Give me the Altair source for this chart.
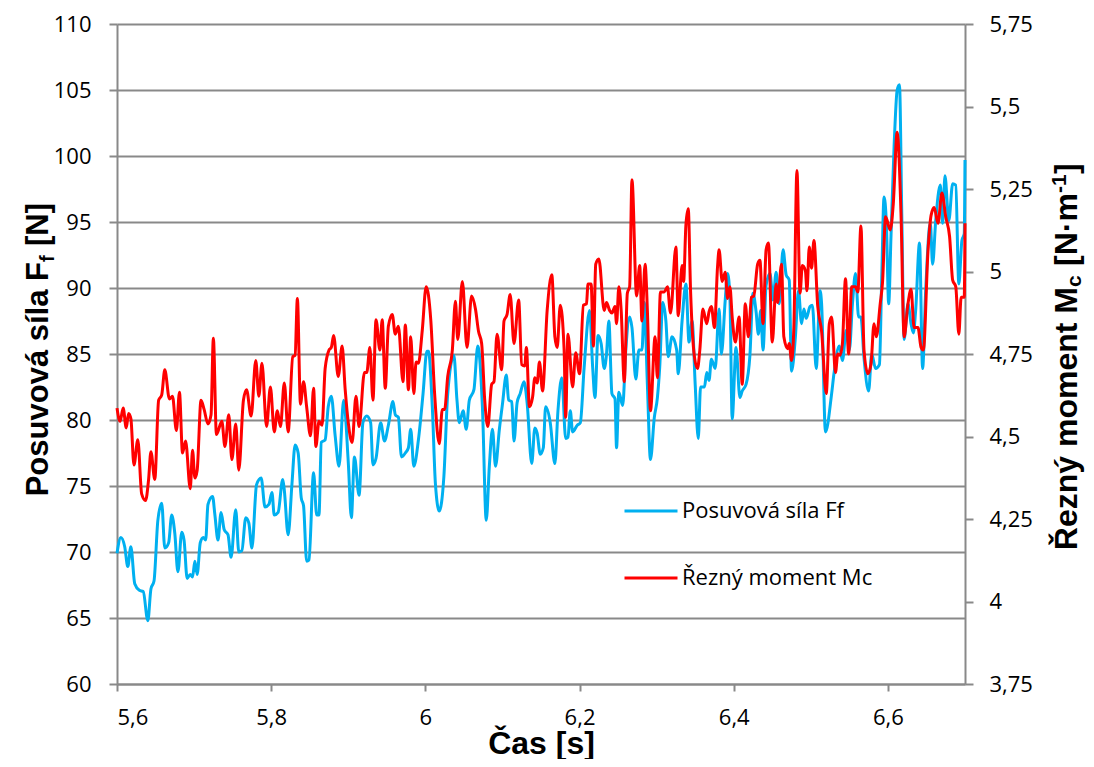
import altair as alt
import pandas as pd

# ---- data ----
ff_time = [5.600, 5.605, 5.610, 5.614, 5.618, 5.623, 5.629, 5.634, 5.640, 5.644, 5.648, 5.653, 5.658, 5.662,
           5.667, 5.671, 5.675, 5.679, 5.684, 5.687, 5.691, 5.695, 5.698, 5.701, 5.704, 5.708, 5.712, 5.715,
           5.718, 5.724, 5.727, 5.731, 5.735, 5.739, 5.744, 5.748, 5.754, 5.758, 5.762, 5.767, 5.771, 5.775,
           5.781, 5.787, 5.792, 5.797, 5.801, 5.804, 5.809, 5.815, 5.817, 5.822, 5.827, 5.831, 5.835, 5.839,
           5.842, 5.846, 5.849, 5.855, 5.859, 5.862, 5.865, 5.870, 5.874, 5.878, 5.883, 5.888, 5.894, 5.900,
           5.904, 5.908, 5.914, 5.919, 5.924, 5.929, 5.932, 5.936, 5.942, 5.947, 5.952, 5.958, 5.961, 5.965,
           5.969, 5.974, 5.978, 5.981, 5.985, 5.991, 5.997, 6.002, 6.004, 6.009, 6.013, 6.018, 6.024, 6.029,
           6.037, 6.041, 6.044, 6.049, 6.053, 6.057, 6.063, 6.068, 6.074, 6.079, 6.083, 6.087, 6.091, 6.096,
           6.100, 6.105, 6.108, 6.112, 6.115, 6.119, 6.123, 6.128, 6.132, 6.138, 6.142, 6.145, 6.149, 6.153,
           6.156, 6.162, 6.168, 6.172, 6.177, 6.182, 6.185, 6.188, 6.191, 6.197, 6.201, 6.206, 6.213, 6.217,
           6.220, 6.224, 6.228, 6.232, 6.235, 6.238, 6.242, 6.246, 6.248, 6.251, 6.256, 6.260, 6.265, 6.268,
           6.273, 6.277, 6.281, 6.284, 6.288, 6.292, 6.297, 6.301, 6.304, 6.308, 6.312, 6.315, 6.320, 6.326,
           6.328, 6.333, 6.338, 6.342, 6.346, 6.350, 6.354, 6.357, 6.362, 6.365, 6.368, 6.371, 6.376, 6.381,
           6.384, 6.389, 6.392, 6.395, 6.398, 6.403, 6.408, 6.411, 6.416, 6.421, 6.425, 6.429, 6.432, 6.435,
           6.438, 6.442, 6.447, 6.451, 6.455, 6.459, 6.464, 6.468, 6.472, 6.475, 6.480, 6.484, 6.488, 6.491,
           6.494, 6.499, 6.502, 6.507, 6.512, 6.514, 6.519, 6.527, 6.530, 6.537, 6.541, 6.546, 6.550, 6.554,
           6.558, 6.562, 6.565, 6.569, 6.575, 6.579, 6.584, 6.589, 6.592, 6.595, 6.598, 6.601, 6.604, 6.608,
           6.612, 6.615, 6.618, 6.621, 6.626, 6.630, 6.633, 6.636, 6.641, 6.645, 6.649, 6.655, 6.658, 6.662,
           6.668, 6.671, 6.674, 6.679, 6.684, 6.688, 6.692, 6.696, 6.699, 6.700]
ff_value = [69.9, 71.1, 70.4, 68.9, 70.4, 67.6, 67.1, 67.0, 64.8, 67.2, 67.8, 72.4, 73.7, 70.3,
            70.7, 72.8, 71.4, 68.5, 71.5, 70.9, 68.0, 68.3, 68.1, 69.3, 68.3, 70.7, 71.1, 70.9,
            73.6, 74.2, 72.8, 70.9, 73.0, 71.7, 71.3, 69.6, 73.2, 70.0, 70.1, 72.6, 72.2, 70.3,
            75.1, 75.6, 73.4, 73.6, 74.5, 72.8, 73.0, 75.5, 74.7, 71.3, 75.2, 78.1, 77.5, 74.1,
            73.5, 69.3, 69.4, 76.0, 72.8, 72.8, 78.3, 78.5, 81.0, 81.8, 78.8, 76.5, 81.5, 76.8,
            72.6, 77.2, 74.3, 79.8, 80.3, 79.8, 76.6, 77.1, 79.8, 78.4, 79.6, 81.4, 80.4, 80.2,
            77.2, 77.5, 77.9, 79.3, 76.5, 78.5, 82.0, 85.2, 85.2, 81.0, 75.2, 73.1, 75.7, 82.0,
            84.9, 81.5, 79.8, 80.7, 79.3, 81.5, 82.3, 85.6, 81.0, 72.4, 76.5, 79.3, 76.5, 79.3,
            81.2, 83.4, 81.5, 81.4, 78.4, 81.3, 82.0, 82.9, 81.3, 76.7, 79.4, 79.0, 77.4, 77.9,
            81.0, 79.8, 76.7, 80.7, 83.2, 78.6, 78.7, 80.7, 79.1, 79.6, 79.8, 84.0, 88.3, 84.0,
            81.7, 86.4, 85.8, 83.9, 85.0, 87.5, 82.0, 81.6, 77.9, 82.1, 81.1, 85.3, 87.8, 87.0,
            83.1, 85.3, 85.3, 88.9, 82.7, 77.0, 80.2, 81.7, 84.0, 88.9, 87.5, 84.8, 86.3, 85.3,
            83.5, 87.5, 90.3, 85.9, 87.5, 82.7, 78.6, 82.5, 82.5, 83.6, 83.0, 84.6, 83.9, 88.4,
            85.0, 89.1, 91.1, 89.4, 80.1, 85.5, 81.7, 82.2, 82.7, 84.9, 89.6, 88.2, 86.5, 88.3,
            85.3, 90.2, 91.1, 89.1, 91.2, 88.8, 92.9, 91.0, 90.6, 83.7, 86.3, 89.8, 87.3, 88.4,
            87.7, 88.6, 88.7, 83.9, 89.8, 88.8, 79.1, 82.0, 83.5, 85.6, 84.5, 86.8, 85.3, 88.8,
            91.1, 87.8, 87.8, 84.7, 82.2, 85.0, 83.9, 84.2, 90.8, 96.9, 94.9, 88.8, 93.9, 100.7,
            105.0, 105.4, 95.6, 86.1, 88.8, 87.3, 86.6, 88.3, 93.4, 83.9, 89.8, 94.9, 91.8, 95.1,
            97.8, 94.9, 98.5, 95.1, 97.9, 97.8, 90.3, 93.6, 94.1, 99.7]

mc_time = [5.600, 5.604, 5.608, 5.612, 5.615, 5.618, 5.622, 5.627, 5.632, 5.637, 5.641, 5.644, 5.649, 5.654,
           5.658, 5.662, 5.668, 5.672, 5.677, 5.681, 5.685, 5.689, 5.695, 5.698, 5.701, 5.704, 5.709, 5.713,
           5.718, 5.722, 5.725, 5.729, 5.736, 5.740, 5.745, 5.749, 5.754, 5.758, 5.764, 5.768, 5.774, 5.780,
           5.784, 5.788, 5.794, 5.799, 5.804, 5.808, 5.812, 5.817, 5.822, 5.828, 5.831, 5.834, 5.838, 5.842,
           5.846, 5.851, 5.855, 5.858, 5.862, 5.866, 5.870, 5.875, 5.878, 5.881, 5.887, 5.892, 5.896, 5.900,
           5.905, 5.910, 5.914, 5.921, 5.924, 5.928, 5.932, 5.936, 5.941, 5.944, 5.948, 5.952, 5.957, 5.961,
           5.965, 5.971, 5.974, 5.978, 5.981, 5.985, 5.988, 5.991, 5.996, 6.001, 6.007, 6.012, 6.018, 6.022,
           6.025, 6.029, 6.035, 6.039, 6.042, 6.048, 6.054, 6.060, 6.065, 6.069, 6.073, 6.077, 6.081, 6.086,
           6.089, 6.093, 6.099, 6.102, 6.106, 6.110, 6.115, 6.121, 6.125, 6.129, 6.131, 6.135, 6.139, 6.142,
           6.145, 6.148, 6.152, 6.158, 6.164, 6.168, 6.171, 6.175, 6.180, 6.182, 6.185, 6.191, 6.195, 6.200,
           6.205, 6.209, 6.211, 6.215, 6.218, 6.221, 6.225, 6.232, 6.235, 6.239, 6.242, 6.246, 6.248, 6.251,
           6.254, 6.258, 6.262, 6.265, 6.268, 6.274, 6.278, 6.281, 6.285, 6.288, 6.292, 6.298, 6.301, 6.305,
           6.310, 6.314, 6.318, 6.325, 6.328, 6.333, 6.335, 6.338, 6.341, 6.344, 6.349, 6.353, 6.356, 6.360,
           6.365, 6.368, 6.371, 6.375, 6.379, 6.381, 6.385, 6.389, 6.392, 6.395, 6.398, 6.402, 6.407, 6.411,
           6.415, 6.419, 6.423, 6.426, 6.431, 6.434, 6.438, 6.442, 6.445, 6.450, 6.455, 6.457, 6.462, 6.465,
           6.470, 6.472, 6.475, 6.478, 6.482, 6.486, 6.489, 6.493, 6.495, 6.498, 6.501, 6.504, 6.509, 6.514,
           6.520, 6.524, 6.527, 6.532, 6.535, 6.538, 6.541, 6.545, 6.549, 6.553, 6.558, 6.561, 6.565, 6.569,
           6.574, 6.578, 6.582, 6.585, 6.590, 6.593, 6.597, 6.603, 6.607, 6.612, 6.617, 6.621, 6.626, 6.630,
           6.634, 6.639, 6.643, 6.646, 6.652, 6.656, 6.660, 6.665, 6.670, 6.675, 6.680, 6.684, 6.688, 6.692,
           6.695, 6.699, 6.700]
mc_value = [4.586, 4.546, 4.586, 4.526, 4.570, 4.554, 4.414, 4.490, 4.326, 4.306, 4.370, 4.454, 4.370, 4.610,
            4.626, 4.702, 4.614, 4.622, 4.518, 4.634, 4.450, 4.486, 4.342, 4.458, 4.374, 4.398, 4.610, 4.582,
            4.538, 4.566, 4.798, 4.506, 4.546, 4.470, 4.566, 4.430, 4.538, 4.398, 4.610, 4.642, 4.562, 4.730,
            4.622, 4.722, 4.530, 4.650, 4.514, 4.578, 4.530, 4.662, 4.514, 4.742, 4.746, 4.918, 4.598, 4.666,
            4.590, 4.502, 4.646, 4.470, 4.546, 4.534, 4.706, 4.762, 4.770, 4.806, 4.682, 4.774, 4.642, 4.542,
            4.482, 4.622, 4.530, 4.694, 4.694, 4.770, 4.610, 4.854, 4.762, 4.854, 4.646, 4.834, 4.870, 4.810,
            4.834, 4.666, 4.838, 4.642, 4.802, 4.630, 4.726, 4.722, 4.822, 4.954, 4.854, 4.630, 4.478, 4.582,
            4.582, 4.682, 4.762, 4.910, 4.794, 4.970, 4.770, 4.926, 4.886, 4.818, 4.782, 4.610, 4.530, 4.658,
            4.666, 4.810, 4.702, 4.850, 4.870, 4.930, 4.782, 4.914, 4.718, 4.714, 4.770, 4.590, 4.618, 4.678,
            4.662, 4.726, 4.638, 4.882, 4.990, 4.802, 4.770, 4.898, 4.762, 4.558, 4.810, 4.650, 4.754, 4.690,
            4.898, 4.902, 4.962, 4.962, 4.774, 5.022, 5.038, 4.882, 4.906, 4.882, 4.874, 4.894, 4.842, 4.954,
            4.882, 4.666, 4.934, 4.954, 5.278, 4.926, 5.018, 4.850, 5.022, 4.882, 4.578, 4.802, 4.678, 4.938,
            4.938, 4.954, 4.874, 5.074, 4.866, 5.018, 4.970, 5.142, 5.190, 4.942, 4.742, 4.706, 4.762, 4.886,
            4.842, 4.878, 4.894, 4.830, 5.014, 5.066, 4.970, 4.998, 4.918, 4.954, 4.862, 4.786, 4.862, 4.658,
            4.902, 4.802, 4.922, 4.926, 5.022, 5.034, 4.842, 5.066, 5.086, 4.786, 4.962, 4.906, 5.022, 4.802,
            4.766, 4.782, 4.730, 4.830, 5.306, 4.934, 5.018, 5.002, 4.942, 5.074, 5.010, 5.094, 4.894, 4.818,
            4.630, 4.842, 4.862, 4.694, 4.750, 4.746, 4.782, 4.978, 4.750, 4.954, 4.954, 4.938, 5.138, 4.762,
            4.690, 4.718, 4.842, 4.802, 4.902, 4.966, 5.166, 5.126, 5.206, 5.422, 5.174, 4.802, 4.902, 4.946,
            4.830, 4.830, 4.770, 4.762, 5.062, 5.170, 5.194, 5.146, 5.238, 5.166, 5.106, 4.974, 4.954, 4.810,
            4.922, 4.922, 5.146]

series_names = ["Posuvová síla Ff", "Řezný moment Mc"]
series_colors = ["#00B0F0", "#FF0000"]
x_ticks = [5.6, 5.8, 6.0, 6.2, 6.4, 6.6]
left_ticks = [60, 65, 70, 75, 80, 85, 90, 95, 100, 105, 110]
right_ticks = [3.75, 4.0, 4.25, 4.5, 4.75, 5.0, 5.25, 5.5, 5.75]

df_ff = pd.DataFrame({"t": ff_time, "v": ff_value, "s": series_names[0]})
df_mc = pd.DataFrame({"t": mc_time, "v": mc_value, "s": series_names[1]})

W, H = 848, 660
GRAY = "#898989"
TICK_FONT = "Open Sans"
TITLE_FONT = "Liberation Sans"

color = alt.Color(
    "s:N",
    scale=alt.Scale(domain=series_names, range=series_colors),
    legend=alt.Legend(
        title=None, orient="none", legendX=506, legendY=459, direction="vertical",
        symbolType="stroke", symbolSize=2809, symbolStrokeWidth=3,
        labelFont=TICK_FONT, labelFontSize=22, labelColor="#000000", labelLimit=500,
        labelOffset=3, rowPadding=28, padding=0,
    ),
)

x_enc = alt.X(
    "t:Q",
    scale=alt.Scale(domain=[5.6, 6.7], nice=False, zero=False),
    axis=alt.Axis(
        values=x_ticks, grid=False,
        labelExpr="replace(format(datum.value, '.1~f'), '.', ',')",
        labelFont=TICK_FONT, labelFontSize=22, labelColor="#000000",
        labelBaseline="alphabetic", labelPadding=33,
        tickSize=7, tickColor=GRAY, tickWidth=2,
        domainColor=GRAY, domainWidth=2,
        title="Čas [s]", titleFont=TITLE_FONT, titleFontSize=32, titleFontWeight="bold",
        titleColor="#000000", titleBaseline="alphabetic", titleY=69,
    ),
)

blue = alt.Chart(df_ff).mark_line(strokeWidth=3, interpolate="monotone").encode(
    x=x_enc,
    y=alt.Y(
        "v:Q",
        scale=alt.Scale(domain=[60, 110], nice=False, zero=False),
        axis=alt.Axis(
            orient="left", values=left_ticks, grid=True, gridColor=GRAY, gridWidth=2,
            labelFont=TICK_FONT, labelFontSize=22, labelColor="#000000", labelPadding=18,
            tickSize=8, tickColor=GRAY, tickWidth=2, domainColor=GRAY, domainWidth=2,
            title=None,
        ),
    ),
    color=color,
)

red = alt.Chart(df_mc).mark_line(strokeWidth=3, interpolate="monotone").encode(
    x=x_enc,
    y=alt.Y(
        "v:Q",
        scale=alt.Scale(domain=[3.75, 5.75], nice=False, zero=False),
        axis=alt.Axis(
            orient="right", values=right_ticks, grid=False,
            labelExpr="replace(format(datum.value, '.2~f'), '.', ',')",
            labelFont=TICK_FONT, labelFontSize=22, labelColor="#000000", labelPadding=16,
            tickSize=8, tickColor=GRAY, tickWidth=2, domainColor=GRAY, domainWidth=2,
            title=None,
        ),
    ),
    color=color,
)

one = pd.DataFrame({"k": [0]})


def title_piece(text, x, y, size, align):
    return alt.Chart(one).mark_text(
        text=text, font=TITLE_FONT, fontSize=size, fontWeight="bold", angle=270,
        align=align, baseline="alphabetic", color="#000000",
    ).encode(x=alt.value(x), y=alt.value(y))


left_title = [
    title_piece("Posuvová síla F", -69, 238, 31, "right"),
    title_piece("f", -63, 238, 20, "left"),
    title_piece("[N]", -69, 222, 31, "left"),
]
RX = 960
right_title = [
    title_piece("Řezný moment M", RX, 263, 32, "right"),
    title_piece("c", RX + 4, 263, 21, "left"),
    title_piece("[N·m", RX, 242, 32, "left"),
    title_piece("-1", RX - 11, 169, 21, "left"),
    title_piece("]", RX, 150, 32, "left"),
]

chart = alt.layer(blue, red, *left_title, *right_title).resolve_scale(
    y="independent"
).properties(
    width=W, height=H,
    autosize=alt.AutoSizeParams(type="none"),
    padding={"left": 109, "top": 16, "right": 121, "bottom": 75},
    background="#FFFFFF",
).configure_view(stroke=None)

chart.save("out.html", embed_options={"renderer": "svg", "actions": False})
